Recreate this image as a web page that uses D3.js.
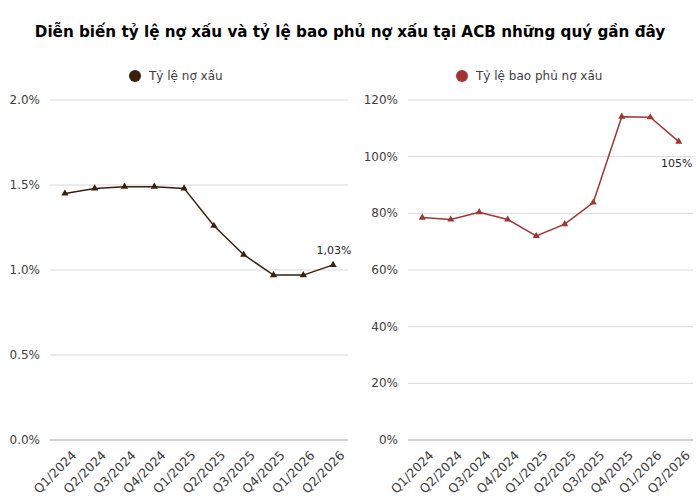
<!DOCTYPE html>
<html>
<head>
<meta charset="utf-8">
<script src="https://cdn.jsdelivr.net/npm/d3@7"></script>
<style>
  body { margin: 0; background: #fff; }
  text { font-family: "DejaVu Sans", Verdana, sans-serif; }
</style>
</head>
<body>
<script>
// quarters + the two series
var quarters = ["Q1/2024", "Q2/2024", "Q3/2024", "Q4/2024", "Q1/2025", "Q2/2025", "Q3/2025", "Q4/2025", "Q1/2026", "Q2/2026"];
var nplRatio = [1.45, 1.48, 1.49, 1.49, 1.48, 1.26, 1.09, 0.97, 0.97, 1.03];
var coverageRatio = [78.5, 77.8, 80.4, 77.8, 72.0, 76.2, 83.8, 114.1, 113.9, 105.3];
var nplTicks = [0, 0.5, 1.0, 1.5, 2.0];
var coverageTicks = [0, 20, 40, 60, 80, 100, 120];

var width = 700, height = 500;
var svg = d3.select("body").append("svg")
    .attr("width", width)
    .attr("height", height);

svg.append("text")
    .attr("x", 350)
    .attr("y", 37)
    .attr("text-anchor", "middle")
    .style("font-size", "15.2px")
    .style("font-weight", "bold")
    .text("Diễn biến tỷ lệ nợ xấu và tỷ lệ bao phủ nợ xấu tại ACB những quý gần đây");

// draws one small line chart
function panel(opt) {
    var x = d3.scaleBand().domain(quarters).range([opt.left, opt.right]);
    var y = d3.scaleLinear().domain([0, opt.max]).range([440, 100]);
    var g = svg.append("g");

    // gridlines
    g.selectAll("line.grid").data(opt.ticks)
        .enter().append("line")
        .attr("x1", opt.left).attr("x2", opt.right)
        .attr("y1", d => y(d)).attr("y2", d => y(d))
        .style("stroke", d => d == 0 ? "#a6a6a6" : "#d9d9d9")
        .style("stroke-width", 1);

    g.selectAll("text.ytick").data(opt.ticks)
        .enter().append("text")
        .attr("x", opt.left - 10)
        .attr("y", d => y(d) + 4)
        .attr("text-anchor", "end")
        .style("font-size", "12px")
        .style("fill", "#404040")
        .text(opt.fmt);

    g.selectAll("text.xtick").data(quarters)
        .enter().append("text")
        .attr("transform", d => "translate(" + (x(d) + x.bandwidth() / 2 + 6) + ",450) rotate(-45)")
        .attr("text-anchor", "end")
        .attr("dy", "0.7em")
        .style("font-size", "12.5px")
        .style("fill", "#404040")
        .text(d => d);

    var line = d3.line()
        .x((d, i) => x(quarters[i]) + x.bandwidth() / 2)
        .y(d => y(d));

    g.append("path")
        .attr("d", line(opt.values))
        .style("fill", "none")
        .style("stroke", opt.color)
        .style("stroke-width", 1.5);

    var tri = d3.symbol().type(d3.symbolTriangle).size(22);
    g.selectAll("path.mark").data(opt.values)
        .enter().append("path")
        .attr("d", tri)
        .attr("transform", (d, i) => "translate(" + (x(quarters[i]) + x.bandwidth() / 2) + "," + y(d) + ")")
        .style("fill", opt.color);

    // legend
    g.append("circle")
        .attr("cx", opt.legendX).attr("cy", 76).attr("r", 6)
        .style("fill", opt.color);
    g.append("text")
        .attr("x", opt.legendX + 14).attr("y", 80)
        .style("font-size", "12px")
        .style("fill", "#404040")
        .text(opt.name);

    // last value label
    var last = opt.values.length - 1;
    g.append("text")
        .attr("x", x(quarters[last]) + x.bandwidth() / 2 + opt.labelDx)
        .attr("y", y(opt.values[last]) + opt.labelDy)
        .attr("text-anchor", "middle")
        .style("font-size", "11px")
        .style("fill", "#262626")
        .text(opt.label);
}

panel({
    left: 50, right: 348, max: 2.0, ticks: nplTicks,
    fmt: d => d.toFixed(1) + "%",
    values: nplRatio, color: "#3b1e0c",
    name: "Tỷ lệ nợ xấu", legendX: 135,
    label: "1,03%", labelDx: 1, labelDy: -11
});

panel({
    left: 408, right: 693, max: 120, ticks: coverageTicks,
    fmt: d => d + "%",
    values: coverageRatio, color: "#a33434",
    name: "Tỷ lệ bao phủ nợ xấu", legendX: 462,
    label: "105%", labelDx: -2, labelDy: 25
});
</script>
</body>
</html>
